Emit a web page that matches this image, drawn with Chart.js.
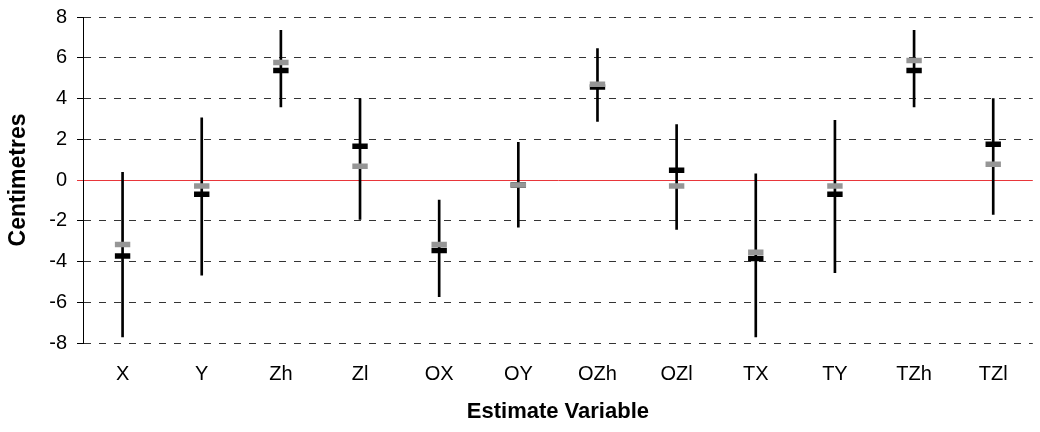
<!DOCTYPE html>
<html>
<head>
<meta charset="utf-8">
<script src="https://cdn.jsdelivr.net/npm/chart.js@4/dist/chart.umd.min.js"></script>
<style>
html,body{margin:0;padding:0;background:#fff;overflow:hidden}
#wrap{width:1046px;height:432px}
</style>
</head>
<body>
<div id="wrap"><canvas id="chart" width="1046" height="432"></canvas></div>
<script>

const categories=["X","Y","Zh","Zl","OX","OY","OZh","OZl","TX","TY","TZh","TZl"]

const rangeLow=[-7.7,-4.67,3.59,-1.94,-5.73,-2.31,2.88,-2.43,-7.7,-4.55,3.59,-1.69]
const rangeHigh=[0.38,3.05,7.34,4.0,-0.99,1.85,6.45,2.72,0.3,2.93,7.34,4.0]

const blackVals=[-3.73,-0.7,5.38,1.66,-3.46,-0.24,4.56,0.48,-3.85,-0.7,5.38,1.75]
const grayVals=[-3.16,-0.3,5.77,0.68,-3.16,-0.24,4.7,-0.3,-3.55,-0.3,5.86,0.77]

const yTicks=[-8,-6,-4,-2,0,2,4,6,8]

const FONT="'Liberation Sans', Arial, sans-serif"

let ranges=categories.map((c,i)=>[rangeLow[i],rangeHigh[i]])

new Chart(document.getElementById("chart"),{

type:"bar",

data:{
labels:categories,
datasets:[
{
type:"line",
label:"gray",
data:grayVals,
showLine:false,
pointStyle:"line",
pointRadius:7.7,
pointHoverRadius:7.7,
pointBorderWidth:5.5,
pointBorderColor:"#969696",
pointBackgroundColor:"#969696",
order:1
},
{
type:"line",
label:"black",
data:blackVals,
showLine:false,
pointStyle:"line",
pointRadius:7.7,
pointHoverRadius:7.7,
pointBorderWidth:5.5,
pointBorderColor:"#000",
pointBackgroundColor:"#000",
order:2
},
{
label:"range",
data:ranges,
backgroundColor:"#000",
borderWidth:0,
barThickness:2,
order:3
}
]
},

options:{
responsive:false,
animation:false,
events:[],
layout:{padding:{top:17,right:0,bottom:0,left:0}},
plugins:{
legend:{display:false},
tooltip:{enabled:false}
},
scales:{
x:{
offset:true,
grid:{display:false,drawTicks:false},
border:{display:false},
ticks:{
color:"#000",
padding:19,
font:{family:FONT,size:20}
},
title:{
display:true,
text:"Estimate Variable",
color:"#000",
font:{family:FONT,size:22,weight:"bold"},
padding:{top:0,bottom:7}
},
afterFit:s=>{s.height=89;s.paddingLeft=0;s.paddingRight=0}
},
y:{
min:-8,
max:8,
afterBuildTicks:s=>{s.ticks=yTicks.map(v=>({value:v}))},
grid:{
color:c=>c.tick && c.tick.value===0 ? "#e8363a" : "#333",
tickColor:c=>c.tick && c.tick.value===0 ? "#e8363a" : "#000",
tickLength:6,
lineWidth:1
},
border:{
display:true,
color:"#000",
width:1,
dash:c=>c.tick && c.tick.value===0 ? [] : [7,8]
},
ticks:{
color:"#000",
padding:10,
font:{family:FONT,size:20}
},
title:{
display:true,
text:"Centimetres",
color:"#000",
font:{family:FONT,size:23,weight:"bold"},
padding:{top:5,bottom:0}
},
afterFit:s=>{s.width=83;s.paddingTop=0;s.paddingBottom=0}
}
}
}

})

</script>
</body>
</html>
